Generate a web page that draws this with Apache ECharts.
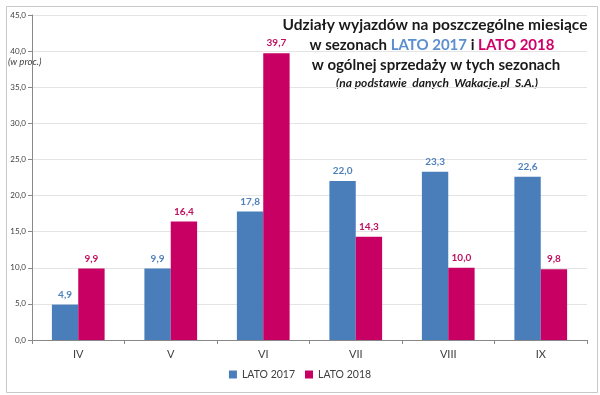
<!DOCTYPE html>
<html><head><meta charset="utf-8">
<script src="https://cdn.jsdelivr.net/npm/echarts@6/dist/echarts.min.js"></script>
<style>html,body{margin:0;padding:0;background:#fff}#c{width:600px;height:395px}</style>
</head><body><div id="c"></div>
<script>
const categories = ['IV','V','VI','VII','VIII','IX'];
const lato2017 = [4.9, 9.9, 17.8, 22.0, 23.3, 22.6];
const lato2018 = [9.9, 16.4, 39.7, 14.3, 10.0, 9.8];
const seriesNames = ['LATO 2017','LATO 2018'];
const yTicks = [0,5,10,15,20,25,30,35,40,45];

const blue = '#4a7ebb', pink = '#c80064';
const blueTxt = '#4f81bd', pinkTxt = '#c0105e';
const fmt = v => Number(v).toFixed(1).replace('.', ',');
const font = 'Lato, "Open Sans", sans-serif';

const chart = echarts.init(document.getElementById('c'), null, {renderer:'canvas'});
chart.setOption({
  animation:false,
  textStyle:{fontFamily:font},
  grid:{left:32, right:13, top:15, bottom:55, containLabel:false},
  xAxis:{type:'category', data:categories, boundaryGap:true,
    axisLine:{lineStyle:{color:'#888'}},
    axisTick:{show:true, length:4, lineStyle:{color:'#888'}},
    axisLabel:{color:'#404040', fontSize:11, margin:9}},
  yAxis:{type:'value', min:yTicks[0], max:yTicks[yTicks.length-1], interval:5,
    axisLine:{show:true, lineStyle:{color:'#888'}},
    axisTick:{show:true, length:4, lineStyle:{color:'#888'}},
    axisLabel:{color:'#404040', fontSize:8, margin:6, formatter:fmt},
    splitLine:{lineStyle:{color:'#e4e4e4'}}},
  legend:{top:369, left:'center', itemWidth:8, itemHeight:8, itemGap:10, padding:[0,0,0,6],
    icon:'rect', textStyle:{color:'#404040', fontSize:10.5}, data:seriesNames},
  series:[
    {name:seriesNames[0], type:'bar', data:lato2017, barGap:'0%', barCategoryGap:'43%',
     itemStyle:{color:blue},
     label:{show:true, position:'top', distance:5, formatter:p=>fmt(p.value), color:blueTxt, fontWeight:'bold', fontSize:10}},
    {name:seriesNames[1], type:'bar', data:lato2018, barGap:'0%', barCategoryGap:'43%',
     itemStyle:{color:pink},
     label:{show:true, position:'top', distance:5, formatter:p=>fmt(p.value), color:pinkTxt, fontWeight:'bold', fontSize:10}}
  ],
  graphic:[
    {type:'rect', left:4, top:4, shape:{width:591, height:386}, style:{fill:null, stroke:'#c8c8c8', lineWidth:1}, silent:true, z:-1},
    {type:'text', left:8, top:57, style:{text:'(w proc.)', font:'italic 9.5px '+font, fill:'#404040'}},
    {type:'text', x:435, y:25, style:{text:'Udziały wyjazdów na poszczególne miesiące', font:'bold 15.5px '+font, fill:'#1a1a1a', align:'center', verticalAlign:'middle'}},
    {type:'text', x:432, y:45, style:{
      text:'{k|w sezonach }{b|LATO 2017}{k| i }{p|LATO 2018}',
      align:'center', verticalAlign:'middle',
      rich:{k:{font:'bold 15px '+font, fill:'#1a1a1a'}, b:{font:'bold 15px '+font, fill:'#5b8fd0'}, p:{font:'bold 15px '+font, fill:'#d0006a'}}}},
    {type:'text', x:436, y:65, style:{text:'w ogólnej sprzedaży w tych sezonach', font:'bold 15px '+font, fill:'#1a1a1a', align:'center', verticalAlign:'middle'}},
    {type:'text', x:437, y:83, style:{text:'(na podstawie  danych  Wakacje.pl  S.A.)', font:'italic bold 12px '+font, fill:'#1a1a1a', align:'center', verticalAlign:'middle'}}
  ]
});
</script></body></html>
